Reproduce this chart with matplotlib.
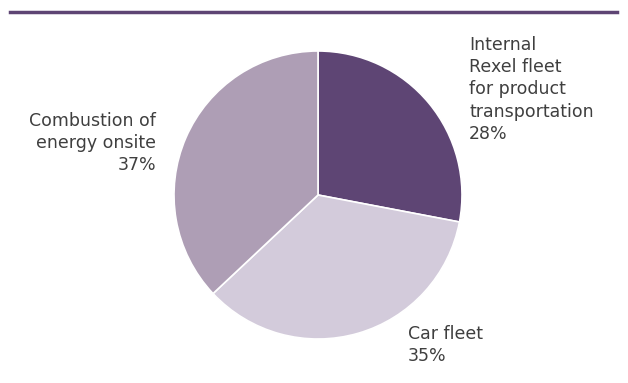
import matplotlib
matplotlib.use("Agg")
import matplotlib.pyplot as plt

# emission sources, share of total (%)
sources = ["Internal\nRexel fleet\nfor product\ntransportation", "Car fleet", "Combustion of\nenergy onsite"]
shares = [28, 35, 37]
colors = ["#5e4574", "#d3cbdb", "#ae9eb5"]

plt.rcParams["font.family"] = ["DejaVu Sans"]

W, H = 628, 383
fig = plt.figure(figsize=(W / 100, H / 100), dpi=100)

# pie centred at (318, 195) px, radius 144 px
cx, cy, r = 318, 195, 144
ax = fig.add_axes([(cx - r) / W, (H - cy - r) / H, 2 * r / W, 2 * r / H])
ax.pie(shares, colors=colors, startangle=90, counterclock=False,
       wedgeprops=dict(edgecolor="white", linewidth=1.2))
ax.set_xlim(-1, 1)
ax.set_ylim(-1, 1)
ax.set_aspect("equal")
ax.axis("off")

# purple rule across the top
fig.add_artist(plt.Line2D([10 / W, 617 / W], [1 - 11.5 / H, 1 - 11.5 / H],
                          color="#5e4574", linewidth=2.5))

txt = dict(fontsize=12.5, color="#3f3f3f", linespacing=1.3, clip_on=False)

def px(x, y):
    return (x - cx) / r, (cy - y) / r

labels = [f"{s}\n{v}%" for s, v in zip(sources, shares)]
ax.text(*px(469, 36), labels[0], ha="left", va="top", **txt)
ax.text(*px(408, 325), labels[1], ha="left", va="top", **txt)
ax.text(*px(156, 112), labels[2], ha="right", va="top", multialignment="right", **txt)

fig.savefig("out.png", dpi=100, facecolor="white")
